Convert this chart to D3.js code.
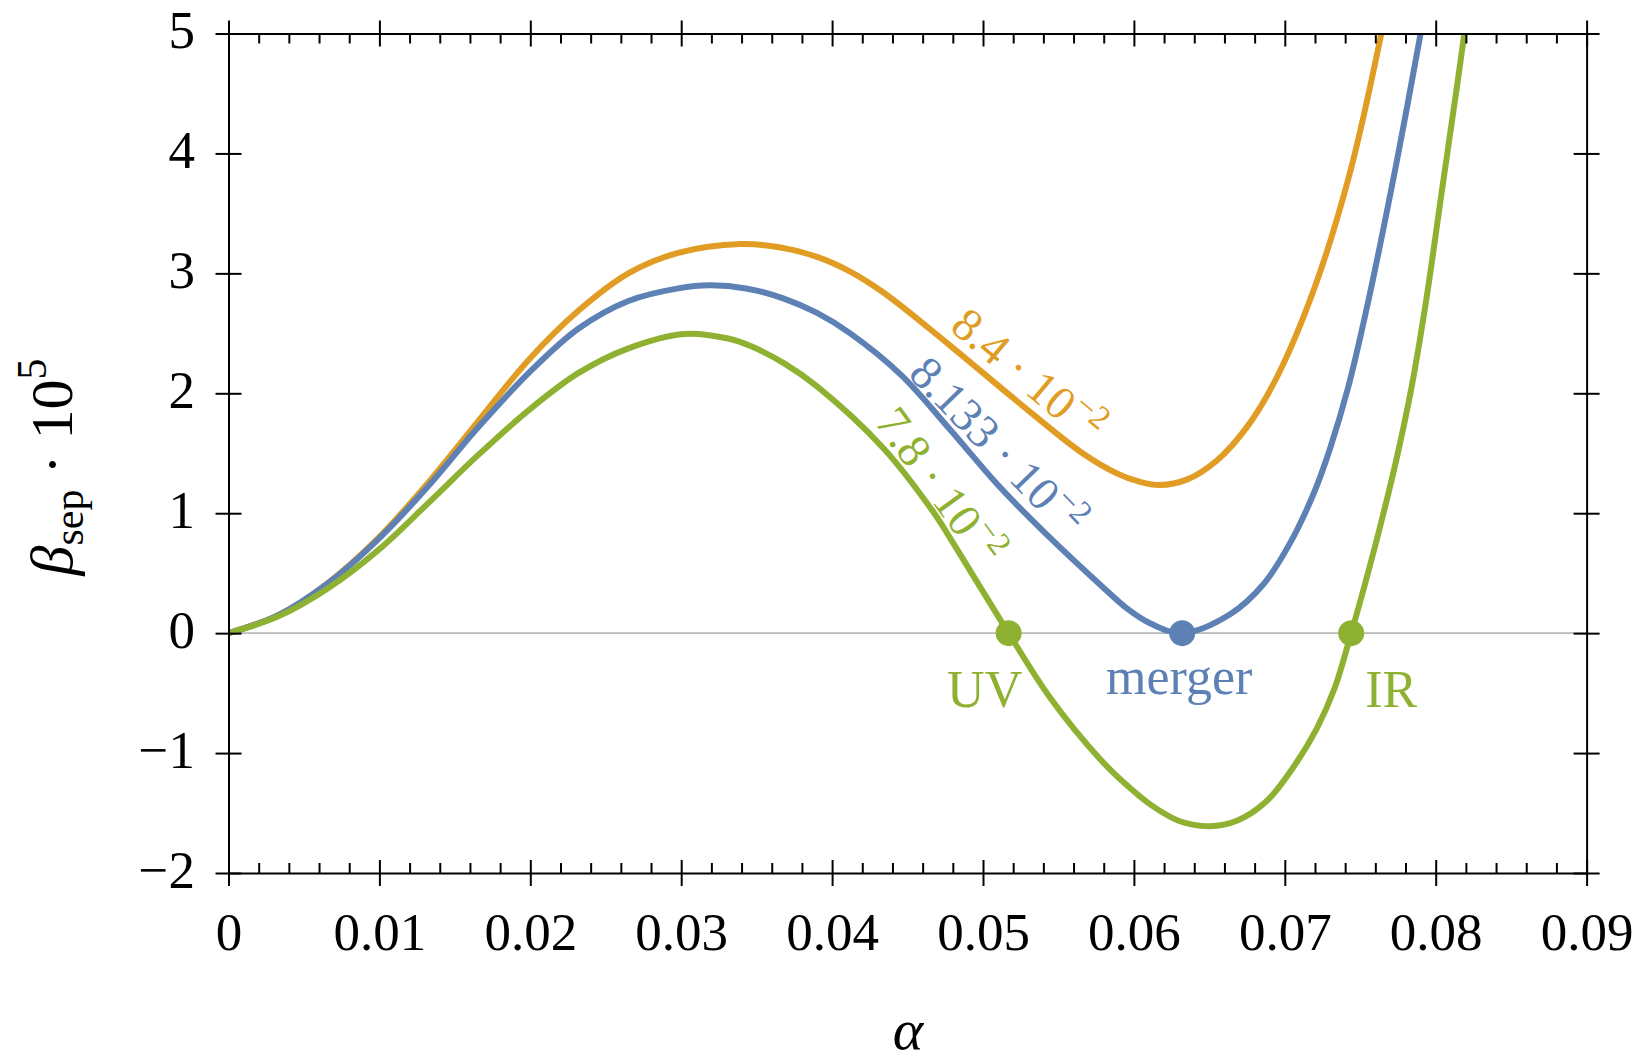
<!DOCTYPE html>
<html>
<head>
<meta charset="utf-8">
<script src="https://cdn.jsdelivr.net/npm/d3@7"></script>
<style>
  html, body { margin: 0; padding: 0; background: #fff; }
  svg { display: block; }
  text { font-family: "Liberation Serif", "DejaVu Serif", serif; }
</style>
</head>
<body>
<svg id="chart" width="1637" height="1063"></svg>
<script>
// β_sep · 10^5 as a function of α for three values of the coupling
const alphaOrange = [0, 0.0033, 0.0066, 0.0099, 0.0132, 0.0165, 0.0199, 0.0232, 0.0265, 0.0298, 0.0339, 0.0365, 0.0390, 0.0412, 0.0434, 0.0478, 0.0522, 0.0566, 0.0589, 0.0603, 0.0617, 0.0635, 0.0655, 0.0675, 0.0695, 0.0720, 0.0743, 0.0764];
const betaOrange  = [0, 0.15, 0.42, 0.79, 1.25, 1.76, 2.28, 2.69, 3.00, 3.17, 3.244, 3.218, 3.138, 3.015, 2.84, 2.40, 1.94, 1.50, 1.33, 1.265, 1.235, 1.28, 1.44, 1.72, 2.14, 2.89, 3.83, 5.0];

const alphaBlue = [0, 0.0033, 0.0066, 0.0099, 0.0132, 0.0165, 0.0199, 0.0232, 0.0265, 0.0298, 0.0319, 0.0343, 0.0368, 0.0390, 0.0412, 0.0446, 0.0478, 0.0511, 0.0544, 0.0578, 0.0596, 0.0611, 0.0632, 0.0664, 0.0686, 0.0703, 0.0719, 0.0730, 0.0742, 0.0755, 0.0774, 0.0790];
const betaBlue  = [0, 0.15, 0.417, 0.78, 1.22, 1.71, 2.17, 2.54, 2.77, 2.875, 2.90, 2.874, 2.79, 2.67, 2.50, 2.15, 1.70, 1.22, 0.80, 0.40, 0.20, 0.08, 0, 0.16, 0.41, 0.74, 1.16, 1.54, 2.05, 2.75, 3.92, 5.0];

const alphaGreen = [0, 0.0033, 0.0066, 0.0099, 0.0132, 0.0165, 0.0199, 0.0232, 0.0265, 0.0302, 0.0331, 0.0346, 0.0368, 0.0390, 0.0434, 0.0467, 0.0478, 0.0500, 0.0517, 0.0544, 0.0578, 0.0595, 0.0611, 0.0630, 0.0650, 0.0669, 0.0688, 0.0705, 0.0721, 0.0733, 0.0744, 0.0754, 0.0764, 0.0774, 0.0784, 0.0794, 0.0804, 0.0814, 0.0819];
const betaGreen  = [0, 0.14, 0.375, 0.69, 1.08, 1.48, 1.86, 2.17, 2.375, 2.495, 2.457, 2.394, 2.251, 2.057, 1.542, 1.012, 0.797, 0.346, 0, -0.53, -1.056, -1.265, -1.43, -1.566, -1.61, -1.56, -1.40, -1.13, -0.80, -0.46, 0, 0.45, 0.93, 1.45, 2.05, 2.80, 3.68, 4.55, 5.0];

// curve annotations: mantissa and exponent of each coupling value
const seriesMantissa = ["8.4", "8.133", "7.8"];
const seriesExponent = ["−2", "−2", "−2"];

// fixed points on the β = 0 line
const uvPoint     = [0.0517, 0];
const mergerPoint = [0.0632, 0];
const irPoint     = [0.0744, 0];
const pointNames  = ["UV", "merger", "IR"];

const xTicks = [0, 0.01, 0.02, 0.03, 0.04, 0.05, 0.06, 0.07, 0.08, 0.09];
const xTickLabels = ["0", "0.01", "0.02", "0.03", "0.04", "0.05", "0.06", "0.07", "0.08", "0.09"];
const yTicks = [-2, -1, 0, 1, 2, 3, 4, 5];
const yTickLabels = ["−2", "−1", "0", "1", "2", "3", "4", "5"];

// ---- layout ----
const ORANGE = "#E19C24", BLUE = "#5E81B5", GREEN = "#8FB131";
const plot = { left: 228.5, right: 1586.6, top: 33.5, bottom: 873 };

const x = d3.scaleLinear().domain([0, 0.09]).range([plot.left, plot.right]);
const y = d3.scaleLinear().domain([-2, 5]).range([plot.bottom, plot.top]);

const svg = d3.select("#chart");

svg.append("defs").append("clipPath").attr("id", "plotClip")
  .append("rect")
  .attr("x", plot.left).attr("y", plot.top)
  .attr("width", plot.right - plot.left).attr("height", plot.bottom - plot.top);

// zero line
svg.append("line")
  .attr("x1", x(0)).attr("x2", x(0.09))
  .attr("y1", y(0)).attr("y2", y(0))
  .attr("stroke", "#b8b8b8").attr("stroke-width", 1.6);

// curves
const line = d3.line().x(d => x(d[0])).y(d => y(d[1])).curve(d3.curveCatmullRom.alpha(0.5));
const series = [
  { a: alphaOrange, b: betaOrange, color: ORANGE },
  { a: alphaBlue,   b: betaBlue,   color: BLUE },
  { a: alphaGreen,  b: betaGreen,  color: GREEN }
];
const curves = svg.append("g").attr("clip-path", "url(#plotClip)");
series.forEach(s => {
  curves.append("path")
    .datum(s.a.map((v, i) => [v, s.b[i]]))
    .attr("d", line)
    .attr("fill", "none")
    .attr("stroke", s.color)
    .attr("stroke-width", 6)
    .attr("stroke-linejoin", "round");
});

// curve labels, rotated along the descending branch
const labelSpecs = [
  { at: [0.04771, 2.534], angle: 40, color: ORANGE },
  { at: [0.04496, 2.151], angle: 46, color: BLUE },
  { at: [0.04276, 1.761], angle: 54, color: GREEN }
];
labelSpecs.forEach((spec, i) => {
  const t = svg.append("text")
    .attr("transform", `translate(${x(spec.at[0])},${y(spec.at[1])}) rotate(${spec.angle})`)
    .attr("fill", spec.color)
    .style("font-size", "47px");
  t.append("tspan").text(seriesMantissa[i] + " · 10");
  t.append("tspan").attr("dx", 1).attr("dy", -19).style("font-size", "33px").text(seriesExponent[i]);
});

// fixed points
const points = [
  { p: uvPoint, color: GREEN, dx: -24, dy: 74 },
  { p: mergerPoint, color: BLUE, dx: -3, dy: 61 },
  { p: irPoint, color: GREEN, dx: 40, dy: 74 }
];
points.forEach((pt, i) => {
  svg.append("circle")
    .attr("cx", x(pt.p[0])).attr("cy", y(pt.p[1]))
    .attr("r", 13).attr("fill", pt.color);
  svg.append("text")
    .attr("x", x(pt.p[0]) + pt.dx).attr("y", y(pt.p[1]) + pt.dy)
    .attr("text-anchor", "middle")
    .attr("fill", pt.color)
    .style("font-size", "52px")
    .text(pointNames[i]);
});

// ---- frame and ticks ----
const xMinor = d3.range(0, 0.0901, 0.002).filter(v => Math.abs(v * 100 - Math.round(v * 100)) > 1e-6);

function frameStyle(g) {
  g.attr("font-family", null).attr("font-size", null);
  g.select(".domain").attr("stroke", "#000").attr("stroke-width", 2);
  g.selectAll(".tick line").attr("stroke", "#000").attr("stroke-width", 2);
}

// bottom
const gB = svg.append("g").attr("transform", `translate(0,${plot.bottom})`)
  .call(d3.axisBottom(x).tickValues(xTicks).tickFormat((d, i) => xTickLabels[i])
    .tickSizeInner(13).tickSizeOuter(0).tickPadding(0))
  .call(frameStyle);
gB.selectAll(".tick line").attr("y1", -13).attr("y2", 13);
gB.selectAll(".tick text").attr("y", 77).attr("dy", null)
  .attr("fill", "#000").style("font-size", "53px");

svg.append("g").attr("transform", `translate(0,${plot.bottom})`)
  .call(d3.axisBottom(x).tickValues(xMinor).tickFormat("").tickSizeInner(-10).tickSizeOuter(0))
  .call(frameStyle)
  .call(g => g.select(".domain").remove());

// top
const gT = svg.append("g").attr("transform", `translate(0,${plot.top})`)
  .call(d3.axisTop(x).tickValues(xTicks).tickFormat("").tickSizeInner(13).tickSizeOuter(0))
  .call(frameStyle);
gT.selectAll(".tick line").attr("y1", -13).attr("y2", 13);

svg.append("g").attr("transform", `translate(0,${plot.top})`)
  .call(d3.axisTop(x).tickValues(xMinor).tickFormat("").tickSizeInner(-10).tickSizeOuter(0))
  .call(frameStyle)
  .call(g => g.select(".domain").remove());

// left
const gL = svg.append("g").attr("transform", `translate(${plot.left},0)`)
  .call(d3.axisLeft(y).tickValues(yTicks).tickFormat((d, i) => yTickLabels[i])
    .tickSizeInner(13).tickSizeOuter(0).tickPadding(0))
  .call(frameStyle);
gL.selectAll(".tick line").attr("x1", -13).attr("x2", 13);
gL.selectAll(".tick text").attr("x", -33.5).attr("dy", 14)
  .attr("fill", "#000").style("font-size", "53px");

// right
const gR = svg.append("g").attr("transform", `translate(${plot.right},0)`)
  .call(d3.axisRight(y).tickValues(yTicks).tickFormat("").tickSizeInner(13).tickSizeOuter(0))
  .call(frameStyle);
gR.selectAll(".tick line").attr("x1", -13).attr("x2", 13);

// ---- axis titles ----
svg.append("text")
  .attr("x", 908).attr("y", 1049)
  .attr("text-anchor", "middle")
  .style("font-size", "58px").style("font-style", "italic")
  .text("α");

const yt = svg.append("text")
  .attr("transform", "translate(72,467) rotate(-90)")
  .attr("text-anchor", "middle")
  .style("font-size", "60px");
yt.append("tspan").style("font-style", "italic").text("β");
yt.append("tspan").attr("dy", 11).style("font-size", "42px").text("sep");
yt.append("tspan").attr("dy", -11).text(" · 10");
yt.append("tspan").attr("dy", -26).style("font-size", "42px").text("5");
</script>
</body>
</html>
